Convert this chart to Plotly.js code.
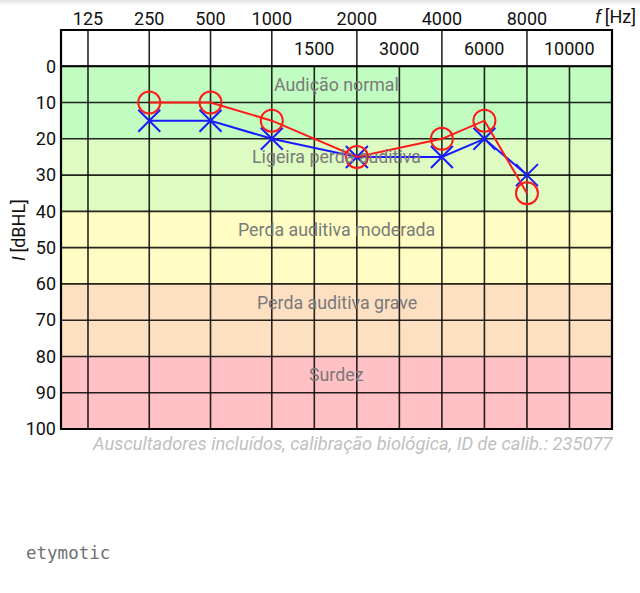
<!DOCTYPE html>
<html>
<head>
<meta charset="utf-8">
<script src="https://cdn.plot.ly/plotly-3.0.1.min.js"></script>
<style>html,body{margin:0;padding:0;background:#fff;}#chart{width:640px;height:593px;}</style>
</head>
<body>
<div id="chart"></div>
<script>
// ---- data ----
const freqs = [250, 500, 1000, 2000, 4000, 6000, 8000];
const rightEar = [10, 10, 15, 25, 20, 15, 35];   // red circles
const leftEar  = [15, 15, 20, 25, 25, 20, 30];   // blue crosses
const mainFreqs = [125, 250, 500, 1000, 2000, 4000, 8000];
const mainLabels = ['125', '250', '500', '1000', '2000', '4000', '8000'];
const midFreqs = [1500, 3000, 6000, 10000];
const midLabels = ['1500', '3000', '6000', '10000'];
const bandEdges = [0, 20, 40, 60, 80, 100];
const bandNames = ['Audição normal', 'Ligeira perda auditiva', 'Perda auditiva moderada', 'Perda auditiva grave', 'Surdez'];
const bandColors = ['#c1fcc1', '#defcc1', '#fffdc3', '#fddfc1', '#ffc1c3'];
const dbTicks = [0, 10, 20, 30, 40, 50, 60, 70, 80, 90, 100];

// ---- frequency scale (piecewise: octaves below 1 kHz, half steps above) ----
const LOW_START = 27, OCT = 61.3, STEP = 42.55;
const hiSteps = [1000, 1500, 2000, 3000, 4000, 6000, 8000, 10000];
function fx(f) {
  if (f <= 1000) return LOW_START + OCT * Math.log2(f / 125);
  const base = LOW_START + OCT * 3;
  for (let i = 0; i < hiSteps.length - 1; i++) {
    if (f <= hiSteps[i + 1]) {
      const t = (f - hiSteps[i]) / (hiSteps[i + 1] - hiSteps[i]);
      return base + STEP * (i + t);
    }
  }
  return base + STEP * (hiSteps.length - 1);
}
const XMAX = fx(10000) + STEP;

const shapes = [];
for (let i = 0; i < bandNames.length; i++) {
  shapes.push({type: 'rect', xref: 'x', yref: 'y', x0: 0, x1: XMAX, y0: bandEdges[i], y1: bandEdges[i + 1],
    fillcolor: bandColors[i], line: {width: 0}, layer: 'below'});
}
const gridLine = {color: 'rgba(0,0,0,0.85)', width: 1.6};
dbTicks.forEach(v => shapes.push({type: 'line', xref: 'x', yref: 'y', x0: 0, x1: XMAX, y0: v, y1: v, line: gridLine, layer: 'between'}));
shapes.push({type: 'line', xref: 'x', yref: 'y', x0: 0, x1: XMAX, y0: 0, y1: 0, line: {color: '#000', width: 2}, layer: 'between'});
mainFreqs.forEach(f => shapes.push({type: 'line', xref: 'x', yref: 'y', x0: fx(f), x1: fx(f), y0: -10, y1: 100, line: gridLine, layer: 'between'}));
midFreqs.forEach(f => shapes.push({type: 'line', xref: 'x', yref: 'y', x0: fx(f), x1: fx(f), y0: 0, y1: 100, line: gridLine, layer: 'between'}));
shapes.push({type: 'rect', xref: 'paper', yref: 'paper', x0: 0, x1: 1, y0: 0, y1: 1, line: {color: '#000', width: 2.2}, layer: 'above'});
for (let i = 0; i < 5; i++) {
  shapes.push({type: 'rect', xref: 'paper', yref: 'paper', x0: -1, x1: 2, y0: 1 + (30 - i) / 399, y1: 1 + (29 - i) / 399,
    fillcolor: 'rgba(0,0,0,' + (0.10 - i * 0.02) + ')', line: {width: 0}, layer: 'below'});
}

const annotations = [];
const FONT = 'Roboto, "Noto Sans", sans-serif';
const TXT = 18;
bandNames.forEach((n, i) => annotations.push({xref: 'paper', yref: 'y', x: 0.5, y: (bandEdges[i] + bandEdges[i + 1]) / 2 - 5,
  text: n, showarrow: false, font: {family: FONT, size: 17.8, color: '#7a7a7a'}}));
midFreqs.forEach((f, i) => annotations.push({xref: 'x', yref: 'y', x: fx(f), y: -5, text: midLabels[i], showarrow: false,
  font: {family: FONT, size: TXT, color: '#111'}}));
annotations.push({xref: 'paper', yref: 'paper', x: (615 - 61) / 551, xanchor: 'center', y: 1, yanchor: 'bottom', yshift: 1,
  text: '<i>f</i>\u2009[Hz]', showarrow: false, font: {family: FONT, size: TXT, color: '#111'}});
annotations.push({xref: 'paper', yref: 'paper', x: (18 - 61) / 551, xanchor: 'center', y: (399 - (230 - 30)) / 399, yanchor: 'middle', textangle: -90,
  text: '<i>I</i>\u2009[dBHL]', showarrow: false, font: {family: FONT, size: TXT, color: '#111'}});
annotations.push({xref: 'paper', yref: 'paper', x: 1, y: 0, xanchor: 'right', yanchor: 'top', yshift: -2, xshift: 3,
  text: '<i>Auscultadores incluídos, calibração biológica, ID de calib.: 235077</i>', showarrow: false,
  font: {family: FONT, size: 18.3, color: '#c0c0c0'}});
annotations.push({xref: 'paper', yref: 'paper', x: (24 - 61) / 551, y: -(553 - 429) / 399, xanchor: 'left', yanchor: 'middle',
  text: 'etymotic', showarrow: false, font: {family: '"DejaVu Sans Mono", monospace', size: 17.5, color: '#707070'}});

const traces = [
  {x: freqs.map(fx), y: leftEar, mode: 'lines+markers', type: 'scatter', cliponaxis: false,
   line: {color: '#1a1aff', width: 2}, marker: {symbol: 'x-thin-open', size: 22, line: {color: '#1a1aff', width: 2}}},
  {x: freqs.map(fx), y: rightEar, mode: 'lines+markers', type: 'scatter', cliponaxis: false,
   line: {color: '#ff1a1a', width: 2}, marker: {symbol: 'circle-open', size: 22, color: '#ff1a1a', line: {color: '#ff1a1a', width: 2}}}
];

const layout = {
  width: 640, height: 593,
  margin: {l: 61, r: 28, t: 30, b: 164, pad: 0},
  paper_bgcolor: '#fff', plot_bgcolor: '#fff',
  showlegend: false,
  font: {family: FONT, size: TXT, color: '#111'},
  xaxis: {range: [0, XMAX], side: 'top', tickvals: mainFreqs.map(fx), ticktext: mainLabels, ticks: '',
    showgrid: false, zeroline: false, showline: false, fixedrange: true, tickfont: {size: TXT, color: '#111'}},
  yaxis: {range: [100, -10], tickvals: dbTicks, ticktext: dbTicks.map(String), ticks: '', showgrid: false,
    zeroline: false, showline: false, fixedrange: true, ticklabelstandoff: 4, tickfont: {size: TXT, color: '#111'}},
  shapes: shapes,
  annotations: annotations
};
Plotly.newPlot('chart', traces, layout, {staticPlot: true, displayModeBar: false});
</script>
</body>
</html>
